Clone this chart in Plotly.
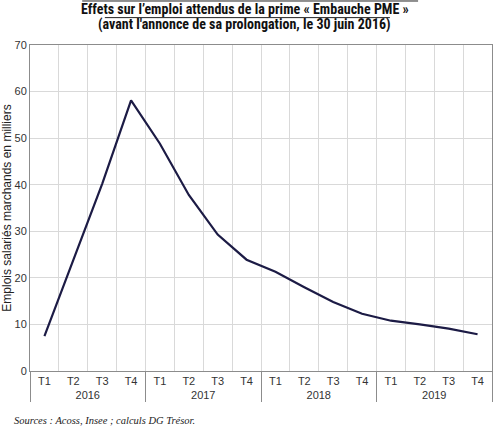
import plotly.graph_objects as go

# =========================
# DATA
# =========================

YEARS = ["2016", "2017", "2018", "2019"]
QUARTERS = ["T1", "T2", "T3", "T4"]

# Emplois salariés marchands (milliers), one value per quarter
EMPLOIS = [
    7.5, 23.8, 40.2, 58.1,     # 2016
    48.8, 37.8, 29.3, 23.9,    # 2017
    21.3, 18.0, 14.8, 12.3,    # 2018
    10.8, 10.0, 9.1, 7.9,      # 2019
]

Y_TICKS = [0, 10, 20, 30, 40, 50, 60, 70]

TITLE_1 = "Effets sur l’emploi attendus de la prime « Embauche PME »"
TITLE_2 = "(avant l'annonce de sa prolongation, le 30 juin 2016)"
Y_TITLE = "Emplois salariés marchands en milliers"
SOURCE = "Sources : Acoss, Insee ; calculs DG Trésor."

# =========================
# FIGURE
# =========================

x_years = [y for y in YEARS for _ in QUARTERS]
x_quarters = [q for _ in YEARS for q in QUARTERS]

TICK_FONT = dict(family="Liberation Sans, Arial, sans-serif", size=11, color="#333333")
NARROW = "Liberation Sans Narrow, Arial Narrow, Roboto Condensed, Liberation Sans, sans-serif"

fig = go.Figure()

fig.add_trace(
    go.Scatter(
        x=[x_years, x_quarters],
        y=EMPLOIS,
        mode="lines",
        line=dict(color="#1c1b45", width=2.2),
        showlegend=False,
    )
)

fig.update_layout(
    width=500,
    height=433,
    margin=dict(l=30, r=8, t=45, b=62),
    paper_bgcolor="white",
    plot_bgcolor="white",
    xaxis=dict(
        type="multicategory",
        range=[-0.5, len(EMPLOIS) - 0.5],
        automargin=False,
        tickson="boundaries",
        showgrid=True,
        gridcolor="#d9d9d9",
        gridwidth=1,
        showline=True,
        linecolor="#8c8c8c",
        linewidth=1,
        mirror=True,
        ticks="",
        showdividers=True,
        dividercolor="#8c8c8c",
        dividerwidth=1,
        tickfont=TICK_FONT,
    ),
    yaxis=dict(
        range=[0, 70],
        tickvals=Y_TICKS,
        automargin=False,
        showgrid=True,
        gridcolor="#d9d9d9",
        gridwidth=1,
        showline=True,
        linecolor="#8c8c8c",
        linewidth=1,
        mirror=True,
        zeroline=False,
        ticks="",
        tickfont=TICK_FONT,
        title=dict(text=Y_TITLE, font=dict(family="Liberation Sans, Arial, sans-serif",
                                           size=12, color="#222222"), standoff=2),
    ),
)

# Title lines
fig.add_annotation(
    text=TITLE_1, xref="paper", yref="paper", x=0.465, y=1.0, yshift=36,
    showarrow=False, xanchor="center", yanchor="middle",
    font=dict(family=NARROW, size=14, color="#111111", weight="bold"),
)
fig.add_annotation(
    text=TITLE_2, xref="paper", yref="paper", x=0.465, y=1.0, yshift=21,
    showarrow=False, xanchor="center", yanchor="middle",
    font=dict(family=NARROW, size=14, color="#111111", weight="bold"),
)

# Rules above and under the first title line
fig.add_shape(type="line", xref="paper", yref="paper", x0=0.113, x1=0.84,
              y0=1.135, y1=1.135, line=dict(color="#222222", width=1))
fig.add_shape(type="line", xref="paper", yref="paper", x0=0.162, x1=0.779,
              y0=1.084, y1=1.084, line=dict(color="#222222", width=1))

# Source
fig.add_annotation(
    text="<i>" + SOURCE + "</i>", xref="paper", yref="paper", x=-0.039, y=0, yshift=-49,
    showarrow=False, xanchor="left", yanchor="middle",
    font=dict(family="Liberation Serif, Times New Roman, serif", size=10.5, color="#222222"),
)

# page body has a default 8px margin; drop it so the figure sits at the corner
fig.write_html("out.html", config={"displayModeBar": False},
               post_script="document.body.style.margin='0';")
